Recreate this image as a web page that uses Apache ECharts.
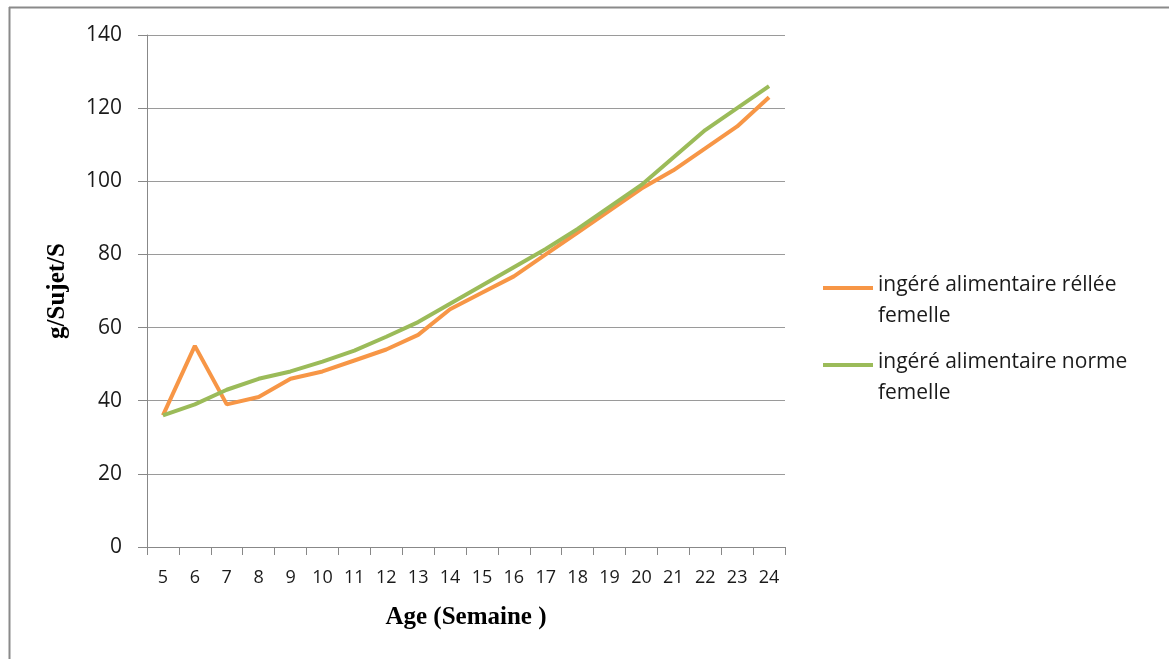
<!DOCTYPE html>
<html>
<head>
<meta charset="utf-8">
<script src="https://cdn.jsdelivr.net/npm/echarts@6/dist/echarts.min.js"></script>
<style>
html,body{margin:0;padding:0;background:#fff;}
#chart{width:1169px;height:659px;}
</style>
</head>
<body>
<div id="chart"></div>
<script>
var weeks = ['5','6','7','8','9','10','11','12','13','14','15','16','17','18','19','20','21','22','23','24'];
var reelle = [36, 55, 39, 41, 46, 48, 51, 54, 58, 65, 69.5, 74, 80, 86, 92, 98, 103, 109, 115, 123];
var norme  = [36, 39, 43, 46, 48, 50.7, 53.7, 57.5, 61.5, 66.5, 71.5, 76.5, 81.5, 87, 93, 99, 106.5, 114, 120, 126];
var yTicks = [0, 20, 40, 60, 80, 100, 120, 140];
var seriesNames = ['ingéré alimentaire réllée femelle', 'ingéré alimentaire norme femelle'];

var chart = echarts.init(document.getElementById('chart'));
var iconPath = 'path://M0,0L50,0L50,4L0,4Z M0,30L0.01,30L0,30Z';
chart.setOption({
  animation: false,
  backgroundColor: '#ffffff',
  graphic: [
    {type: 'line', shape: {x1: 9, y1: 7.5, x2: 1169, y2: 7.5}, style: {stroke: '#8a8a8a', lineWidth: 2}},
    {type: 'line', shape: {x1: 9.5, y1: 7, x2: 9.5, y2: 659}, style: {stroke: '#8a8a8a', lineWidth: 2}}
  ],
  grid: {left: 147, right: 384, top: 35, bottom: 112, containLabel: false},
  legend: {
    orient: 'vertical',
    left: 818,
    top: 265,
    itemWidth: 50,
    itemHeight: 30,
    itemGap: 15,
    icon: iconPath,
    formatter: function (n) { return n.replace(' femelle', '\nfemelle'); },
    textStyle: {fontFamily: 'Open Sans', fontSize: 21, color: '#1a1a1a', lineHeight: 31, padding: [0,0,0,0]},
    data: seriesNames
  },
  xAxis: {
    type: 'category',
    data: weeks,
    boundaryGap: true,
    name: 'Age (Semaine )',
    nameLocation: 'middle',
    nameGap: 58,
    nameTextStyle: {fontFamily: 'Liberation Serif', fontWeight: 'bold', fontSize: 25, color: '#000'},
    axisLine: {lineStyle: {color: '#888', width: 1}},
    axisTick: {show: true, length: 8, lineStyle: {color: '#888'}},
    axisLabel: {fontFamily: 'Open Sans', fontSize: 18, color: '#1a1a1a', margin: 22, interval: 0}
  },
  yAxis: {
    type: 'value',
    min: 0, max: 140, interval: 20,
    name: 'g/Sujet/S',
    nameLocation: 'middle',
    nameGap: 77,
    nameRotate: 90,
    nameTextStyle: {fontFamily: 'Liberation Serif', fontWeight: 'bold', fontSize: 25, color: '#000'},
    axisLine: {show: true, lineStyle: {color: '#888', width: 1}},
    axisTick: {show: true, inside: false, length: 9, lineStyle: {color: '#888'}},
    axisLabel: {fontFamily: 'Open Sans', fontSize: 21, color: '#1a1a1a', margin: 25,
      formatter: function (v) { return yTicks.indexOf(v) >= 0 ? String(v) : ''; }},
    splitLine: {show: true, lineStyle: {color: '#9a9a9a', width: 1}}
  },
  series: [
    {name: seriesNames[0], type: 'line', data: reelle, symbol: 'none', smooth: false,
     lineStyle: {color: '#F79646', width: 4}, itemStyle: {color: '#F79646'}},
    {name: seriesNames[1], type: 'line', data: norme, symbol: 'none', smooth: false,
     lineStyle: {color: '#9BBB59', width: 4}, itemStyle: {color: '#9BBB59'}}
  ]
});
</script>
</body>
</html>
